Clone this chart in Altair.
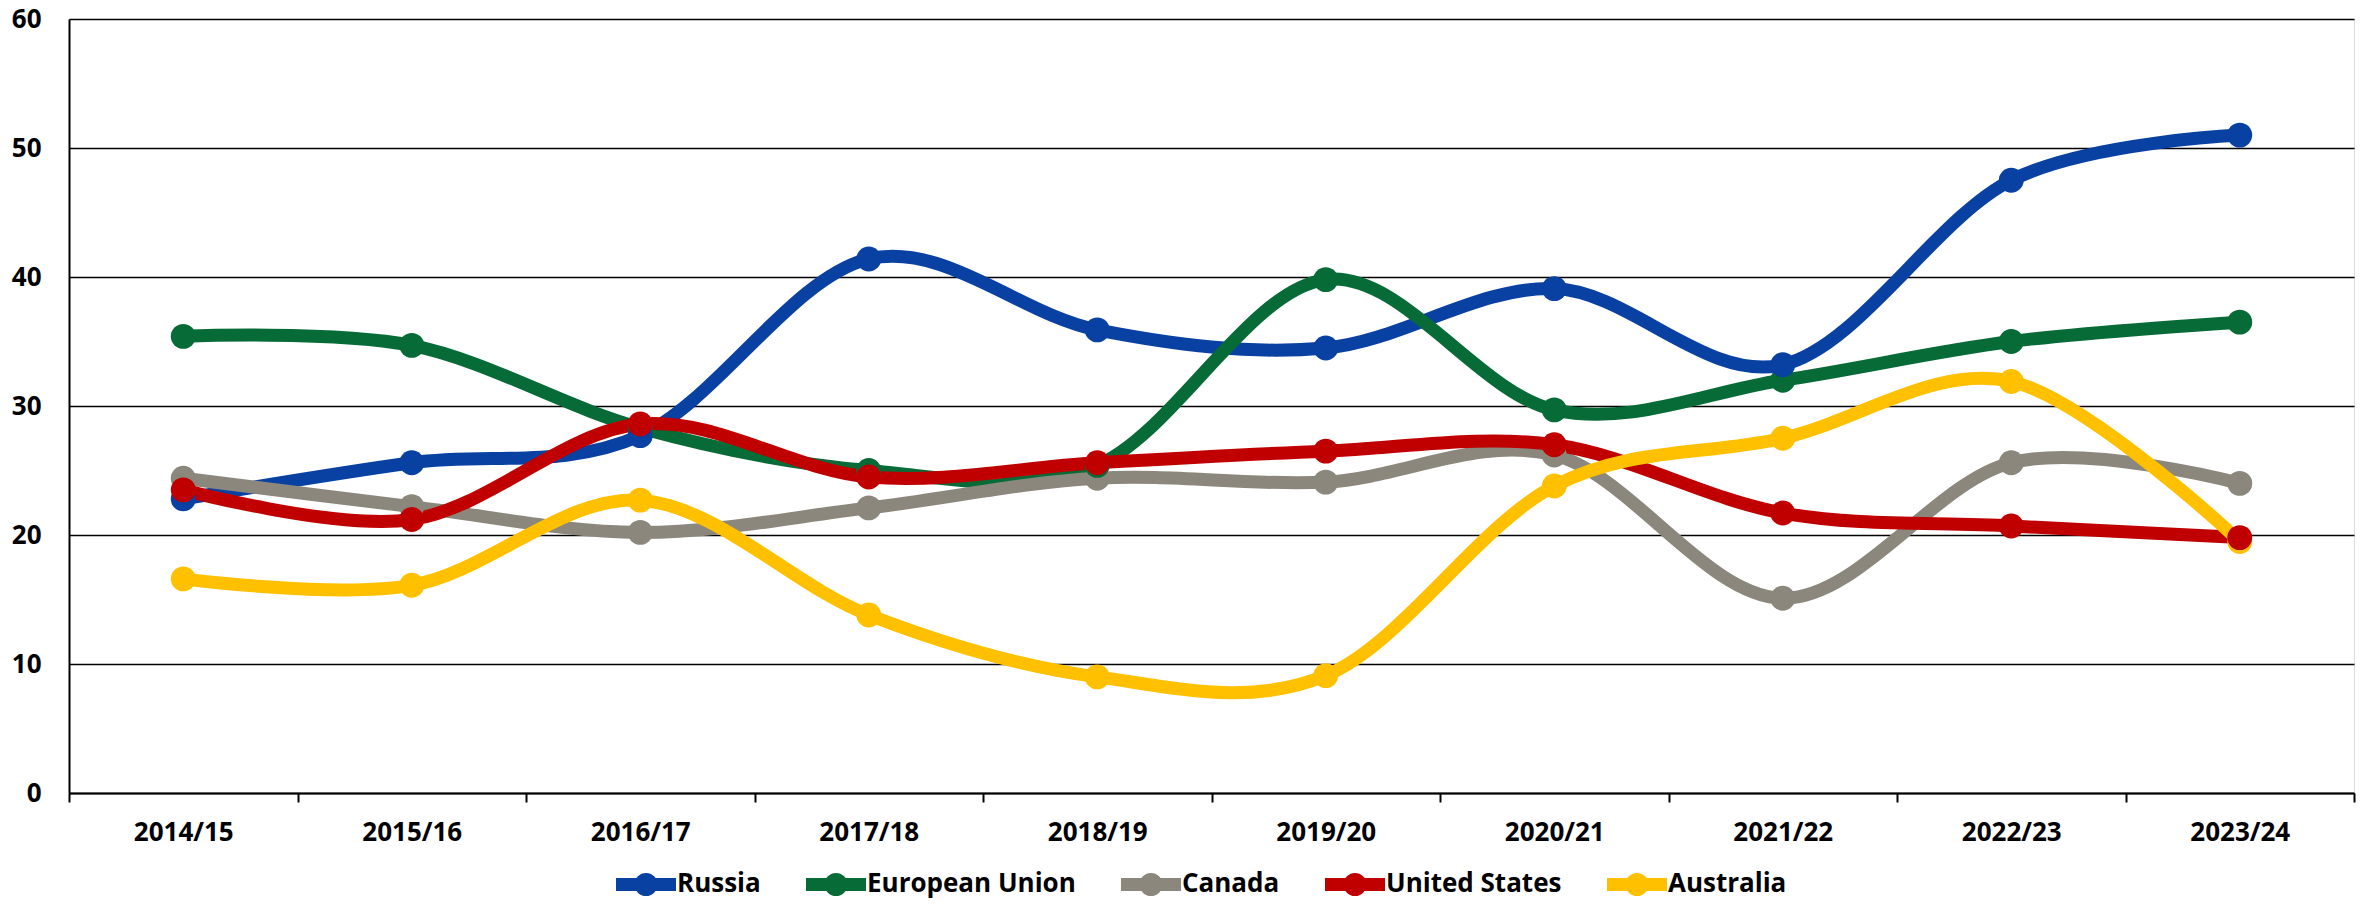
import altair as alt
import pandas as pd

categories = ["2014/15", "2015/16", "2016/17", "2017/18", "2018/19",
              "2019/20", "2020/21", "2021/22", "2022/23", "2023/24"]
series_names = ["Russia", "European Union", "Canada", "United States", "Australia"]
series_colors = ["#0941A3", "#076B38", "#8C877C", "#C00000", "#FFC000"]

russia = [22.8, 25.6, 27.7, 41.4, 35.9, 34.5, 39.1, 33.2, 47.5, 51.0]
european_union = [35.4, 34.7, 28.3, 25.0, 25.4, 39.8, 29.7, 32.0, 35.0, 36.5]
canada = [24.4, 22.2, 20.2, 22.1, 24.4, 24.1, 26.2, 15.1, 25.6, 24.0]
united_states = [23.5, 21.2, 28.6, 24.5, 25.6, 26.5, 27.0, 21.7, 20.7, 19.8]
australia = [16.6, 16.1, 22.7, 13.8, 9.0, 9.1, 23.8, 27.5, 31.9, 19.5]

y_ticks = [0, 10, 20, 30, 40, 50, 60]

values = [russia, european_union, canada, united_states, australia]
rows = []
for name, vals in zip(series_names, values):
    for cat, v in zip(categories, vals):
        rows.append({"Year": cat, "Country": name, "Value": v})
df = pd.DataFrame(rows)

FONT = "Open Sans"
FS = 26

# legend symbol: horizontal bar with a dot in the middle (stroked path)
half = 1.277
r = 0.213
legend_path = (f"M-{half},0 L{half},0 "
               f"M{r},0 A{r},{r} 0 1,1 -{r},0 A{r},{r} 0 1,1 {r},0")

chart = alt.Chart(df).mark_line(
    interpolate="cardinal",
    strokeWidth=13,
    point=alt.OverlayMarkDef(filled=True, size=620, opacity=1),
).encode(
    x=alt.X("Year:O", sort=categories, title=None,
            scale=alt.Scale(paddingInner=0, paddingOuter=0),
            axis=alt.Axis(labelAngle=0, tickBand="extent", tickSize=9,
                          tickWidth=2, tickColor="black", domainColor="black",
                          domainWidth=2, labelPadding=17, labelFont=FONT,
                          labelFontSize=FS, labelFontWeight="bold",
                          labelColor="black", grid=False)),
    y=alt.Y("Value:Q", title=None,
            scale=alt.Scale(domain=[0, 60], nice=False),
            axis=alt.Axis(values=y_ticks, ticks=False, domainColor="black",
                          domainWidth=2, gridColor="black", gridWidth=1.6,
                          gridOpacity=1, labelPadding=28, labelFont=FONT,
                          labelFontSize=FS, labelFontWeight="bold",
                          labelColor="black")),
    color=alt.Color("Country:N", sort=series_names,
                    scale=alt.Scale(domain=series_names, range=series_colors),
                    legend=alt.Legend(title=None, orient="none",
                                      direction="horizontal", columns=5,
                                      legendX=547, legendY=835,
                                      symbolType=legend_path, symbolSize=2209,
                                      symbolStrokeWidth=13, symbolOpacity=1,
                                      labelFont=FONT, labelFontSize=FS,
                                      labelFontWeight="bold", labelColor="black",
                                      labelOffset=1, columnPadding=18,
                                      labelLimit=500, padding=0)),
    order=alt.Order("Country:N", sort="ascending"),
).properties(
    width=2285,
    height=774,
    autosize=alt.AutoSizeParams(type="none"),
    padding={"left": 61, "top": 11, "right": 7, "bottom": 106},
).configure_view(
    stroke="black",
    strokeWidth=2,
).configure(background="white")

chart.save("out.html", embed_options={"renderer": "svg", "actions": False})
